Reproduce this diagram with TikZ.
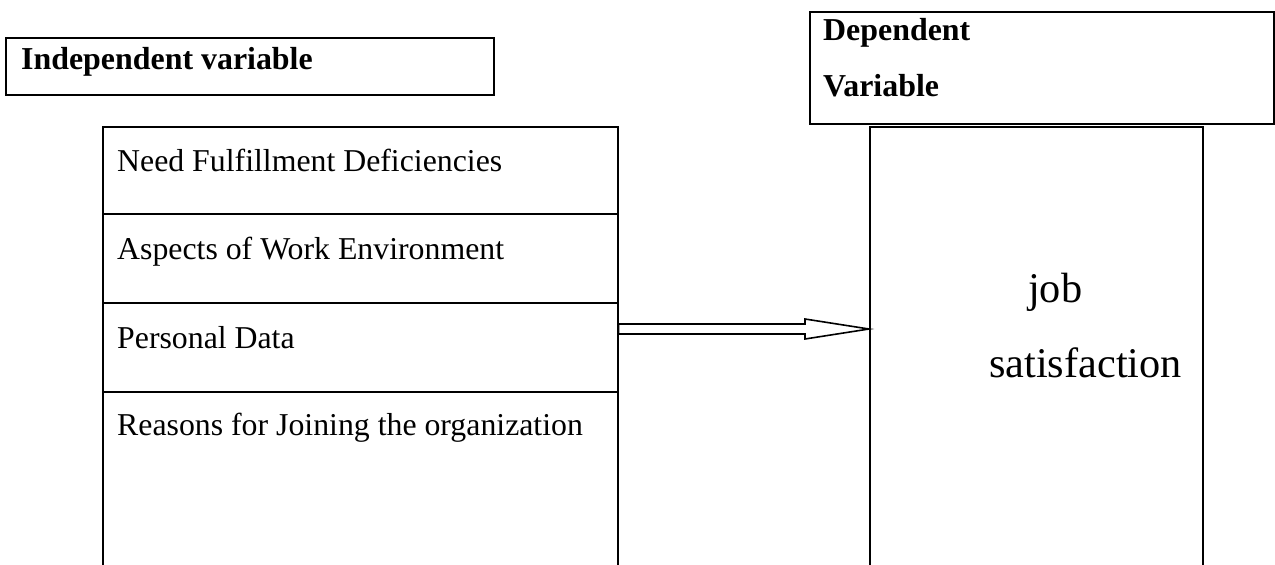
\documentclass[tikz,border=0pt]{standalone}
\usepackage{fontspec}
\setmainfont{Liberation Serif}
\begin{document}
\begin{tikzpicture}[x=1pt,y=-1pt,
  box/.style={draw, line width=1.6pt, inner sep=0pt, anchor=north west},
  lbl/.style={anchor=base west, inner sep=0pt, font=\fontsize{31.8}{36}\selectfont},
  hd/.style={anchor=base west, inner sep=0pt, font=\bfseries\fontsize{31.9}{36}\selectfont},
  big/.style={anchor=base west, inner sep=0pt, font=\fontsize{42.3}{48}\selectfont},
  fatarrow/.style={draw, line width=1.6pt, fill=white, line join=miter}]
\useasboundingbox (0,0) rectangle (1275,565);
% headings
\node[box, minimum width=488pt, minimum height=57pt] (ivhead) at (5,37) {};
\node[hd] (ivtext) at (21,69) {Independent variable};
\node[box, minimum width=464pt, minimum height=112pt] (dvhead) at (809,11) {};
\node[hd] (dvtext1) at (823,40) {Dependent};
\node[hd] (dvtext2) at (823,96) {Variable};
% independent variable box
\node[box, minimum width=515pt, minimum height=500pt] (ivbox) at (102,126) {};
\coordinate (d1) at (0,214);
\coordinate (d2) at (0,303);
\coordinate (d3) at (0,392);
\draw[line width=1.6pt] (ivbox.west |- d1) -- (ivbox.east |- d1);
\draw[line width=1.6pt] (ivbox.west |- d2) -- (ivbox.east |- d2);
\draw[line width=1.6pt] (ivbox.west |- d3) -- (ivbox.east |- d3);
\node[lbl] (t1) at (117,171) {Need Fulfillment Deficiencies};
\node[lbl] (t2) at (117,259) {Aspects of Work Environment};
\node[lbl] (t3) at (117,348) {Personal Data};
\node[lbl] (t4) at (117,435) {Reasons for Joining the organization};
% dependent variable box
\node[box, minimum width=333pt, minimum height=500pt] (jsbox) at (869,126) {};
\node[big] (job) at (1028,302) {job};
\node[big] (sat) at (989,377) {satisfaction};
% arrow
\coordinate (yt) at (0,324);
\coordinate (yb) at (0,334);
\coordinate (ytip) at (0,329);
\draw[fatarrow] (ivbox.east |- yt) -- (805,324) -- (805,319) -- (jsbox.west |- ytip)
  -- (805,339) -- (805,334) -- (ivbox.east |- yb) -- cycle;
\end{tikzpicture}
\end{document}
